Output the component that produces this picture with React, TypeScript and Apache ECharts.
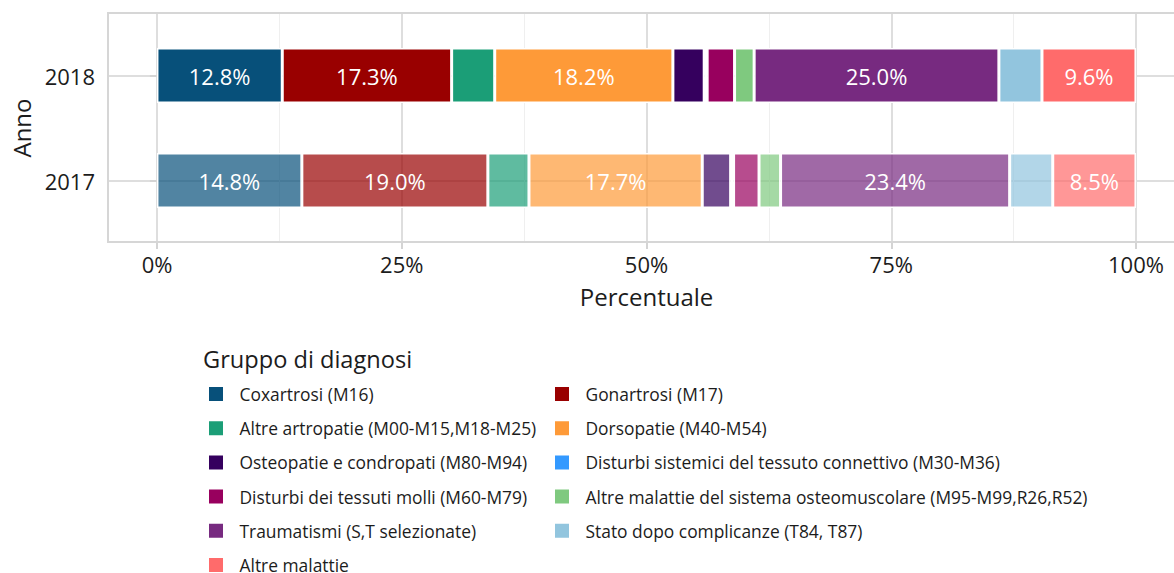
import React, { useEffect, useRef } from "react";
import * as echarts from "echarts";

const years = ["2017", "2018"];
const groups = [
  "Coxartrosi (M16)",
  "Gonartrosi (M17)",
  "Altre artropatie (M00-M15,M18-M25)",
  "Dorsopatie (M40-M54)",
  "Osteopatie e condropati (M80-M94)",
  "Disturbi sistemici del tessuto connettivo (M30-M36)",
  "Disturbi dei tessuti molli (M60-M79)",
  "Altre malattie del sistema osteomuscolare (M95-M99,R26,R52)",
  "Traumatismi (S,T selezionate)",
  "Stato dopo complicanze (T84, T87)",
  "Altre malattie",
];
const values2017 = [14.8, 19.0, 4.2, 17.7, 2.9, 0.3, 2.6, 2.2, 23.4, 4.4, 8.5];
const values2018 = [12.8, 17.3, 4.4, 18.2, 3.2, 0.3, 2.8, 2.0, 25.0, 4.4, 9.6];
const colors = [
  "#07507a",
  "#990000",
  "#1b9e77",
  "#fe9a38",
  "#35005e",
  "#3399ff",
  "#98005e",
  "#7fc97f",
  "#772a80",
  "#92c5de",
  "#ff6b6b",
];
const xTicks = [0, 25, 50, 75, 100];
const legendCol1 = [0, 2, 4, 6, 8, 10];
const legendCol2 = [1, 3, 5, 7, 9];

const FONT = "Open Sans";
const TEXT = "#1c1c1c";
const GRID_MAJOR = "#dedede";
const GRID_MINOR = "#efefef";
const W = 1174;
const H = 573;
// panel / axis layout (pixels)
const PANEL_L = 108;
const PANEL_T = 13;
const PANEL_H = 229;
const ZERO_X = 157;
const SPAN_X = 979; // pixels from 0% to 100%
const X_MIN = -5;
const X_MAX = X_MIN + ((W - PANEL_L) / SPAN_X) * 100;

function rgba(hex: string, a: number) {
  const n = parseInt(hex.slice(1), 16);
  return `rgba(${(n >> 16) & 255},${(n >> 8) & 255},${n & 255},${a})`;
}

export default function App() {
  const ref = useRef<HTMLDivElement>(null);
  useEffect(() => {
    if (!ref.current) return;
    const chart = echarts.init(ref.current, null, { renderer: "svg" });
    const series = groups.map((g, i) => ({
      name: g,
      type: "bar",
      stack: "total",
      xAxisIndex: 0,
      yAxisIndex: 0,
      barWidth: 55,
      color: colors[i],
      itemStyle: { color: colors[i], borderColor: "#ffffff", borderWidth: 1.5 },
      label: {
        show: true,
        position: "inside",
        color: "#ffffff",
        fontFamily: FONT,
        fontSize: 22,
        formatter: (p: any) => (p.value >= 5 ? p.value.toFixed(1) + "%" : ""),
      },
      data: [
        { value: values2017[i], itemStyle: { color: rgba(colors[i], 0.7) } },
        { value: values2018[i] },
      ],
    }));
    const legendBase = {
      orient: "vertical",
      top: 385,
      height: 220,
      padding: 0,
      itemWidth: 16,
      itemHeight: 16,
      itemGap: 16.2,
      icon: "rect",
      selectedMode: false,
      textStyle: {
        fontFamily: FONT,
        fontSize: 17.4,
        color: TEXT,
        padding: [0, 0, 0, 10.5],
      },
    };
    chart.setOption({
      animation: false,
      backgroundColor: "#ffffff",
      textStyle: { fontFamily: FONT },
      title: {
        text: "Gruppo di diagnosi",
        left: 198,
        top: 342,
        textStyle: { fontFamily: FONT, fontSize: 23.6, fontWeight: "normal", color: TEXT },
      },
      legend: [
        { ...legendBase, left: 207, data: legendCol1.map((i) => groups[i]) },
        { ...legendBase, left: 553, data: legendCol2.map((i) => groups[i]) },
      ],
      grid: [
        { left: PANEL_L, top: 23, right: 0, height: 210 },
        { left: ZERO_X, top: PANEL_T, width: SPAN_X, height: PANEL_H },
      ],
      xAxis: [
        {
          type: "value",
          gridIndex: 0,
          min: X_MIN,
          max: X_MAX,
          show: false,
        },
        {
          type: "value",
          gridIndex: 1,
          min: 0,
          max: 100,
          interval: 25,
          name: "Percentuale",
          nameLocation: "middle",
          nameGap: 42,
          nameTextStyle: { fontFamily: FONT, fontSize: 24, color: TEXT },
          axisLine: { show: false },
          axisTick: { show: true, length: 7, lineStyle: { color: "#d4d4d4", width: 2 } },
          axisLabel: {
            margin: 11,
            fontFamily: FONT,
            fontSize: 22,
            color: TEXT,
            formatter: (v: number) => (xTicks.includes(v) ? v + "%" : ""),
          },
          splitLine: { show: true, lineStyle: { color: GRID_MAJOR, width: 2 } },
          minorTick: { show: false, splitNumber: 2 },
          minorSplitLine: { show: true, lineStyle: { color: GRID_MINOR, width: 1 } },
        },
      ],
      yAxis: [
        {
          type: "category",
          gridIndex: 0,
          data: years,
          name: "Anno",
          nameLocation: "middle",
          nameGap: 72,
          nameTextStyle: { fontFamily: FONT, fontSize: 24, color: TEXT },
          axisLine: { show: false },
          axisTick: { show: true, length: 7, alignWithLabel: true, lineStyle: { color: "#d4d4d4", width: 2 } },
          axisLabel: { margin: 13, fontFamily: FONT, fontSize: 22, color: TEXT },
          splitLine: { show: true, alignWithLabel: true, lineStyle: { color: GRID_MAJOR, width: 2 } },
        },
        { type: "value", gridIndex: 1, min: 0, max: 1, show: false },
      ],
      graphic: [
        {
          type: "rect",
          z: 100,
          shape: { x: PANEL_L, y: PANEL_T, width: W - PANEL_L + 20, height: PANEL_H },
          style: { fill: "none", stroke: "#d6d6d6", lineWidth: 2 },
          silent: true,
        },
      ],
      series,
    });
    return () => chart.dispose();
  }, []);
  return (
    <div
      ref={ref}
      style={{ position: "fixed", left: 0, top: 0, width: W, height: H, background: "#fff" }}
    />
  );
}
